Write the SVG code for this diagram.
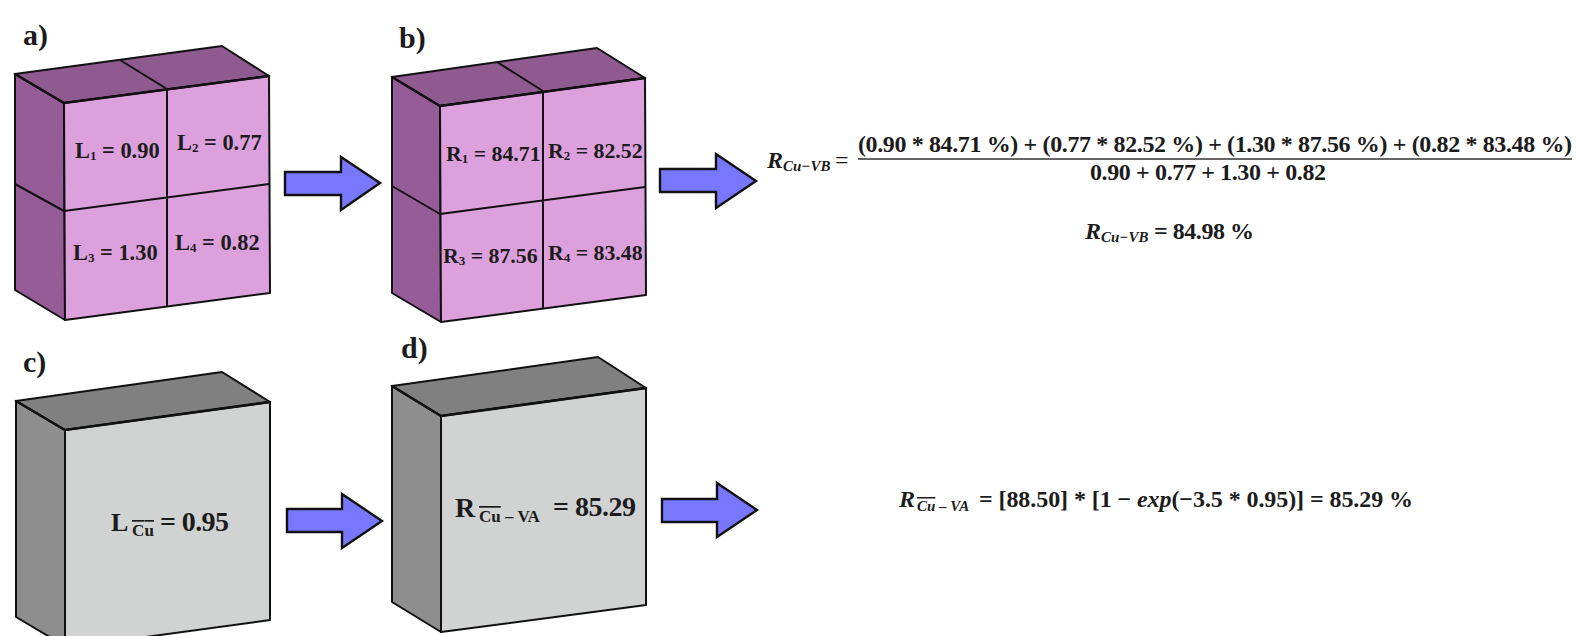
<svg xmlns="http://www.w3.org/2000/svg" width="1577" height="636" viewBox="0 0 1577 636">
<style>
text{font-family:"Liberation Serif","Times New Roman",serif;font-weight:bold;fill:#1c1c1c}
.e{stroke:#111;stroke-width:2;stroke-linejoin:round}
.t{stroke:#111;stroke-width:2.6;stroke-linecap:round;fill:none}
.l{stroke:#111;stroke-width:2;fill:none}
.pf{fill:#dca0dc}.ps{fill:#965c98}.pt{fill:#8f5a90}
.gf{fill:#d1d3d3}.gs{fill:#8e8e8e}.gt{fill:#808080}
.ar{fill:#7878ff;stroke:#111;stroke-width:2.4;stroke-linejoin:miter}
.h{font-size:30px}.v{font-size:22.4px}.w{font-size:21.8px}.s{font-size:13px}
.m{font-size:24px}.i{font-style:italic}.ms{font-size:15px;font-style:italic}
.b{font-size:28px}.bs{font-size:17px;text-decoration:overline}.bn{font-size:17px}
.fr{stroke:#333;stroke-width:1.4}
</style>
<g id="panel-a">
<polygon class="ps e" points="15,74 64,103 65,320 15,290"/>
<polygon class="pt e" points="15,74 222,46 269,76 64,103"/>
<polygon class="pf e" points="64,103 269,76 270,293 65,320"/>
<path class="t" d="M15,74 64,103 269,76"/>
<path class="l" d="M120,60 167,89M167,89V307M64,211 269,184M15,184 64,211"/>
<text class="h" x="23" y="45">a)</text>
<text class="v" x="75" y="158">L<tspan class="s" dy="2">1</tspan><tspan dy="-2"> = 0.90</tspan></text>
<text class="v" x="177" y="150">L<tspan class="s" dy="2">2</tspan><tspan dy="-2"> = 0.77</tspan></text>
<text class="v" x="73" y="260">L<tspan class="s" dy="2">3</tspan><tspan dy="-2"> = 1.30</tspan></text>
<text class="v" x="175" y="250">L<tspan class="s" dy="2">4</tspan><tspan dy="-2"> = 0.82</tspan></text>
</g>
<g id="panel-b">
<polygon class="ps e" points="392,77 440,106 441,322 392,293"/>
<polygon class="pt e" points="392,77 597,48 645,78 440,106"/>
<polygon class="pf e" points="440,106 645,78 646,295 441,322"/>
<path class="t" d="M392,77 440,106 645,78"/>
<path class="l" d="M497,62 543,91M543,91V309M440,214 645,187M392,186 440,214"/>
<text class="h" x="399" y="48">b)</text>
<text class="w" x="446" y="161">R<tspan class="s" dy="2">1</tspan><tspan dy="-2"> = 84.71</tspan></text>
<text class="w" x="548" y="158">R<tspan class="s" dy="2">2</tspan><tspan dy="-2"> = 82.52</tspan></text>
<text class="w" x="443" y="263">R<tspan class="s" dy="2">3</tspan><tspan dy="-2"> = 87.56</tspan></text>
<text class="w" x="548" y="260">R<tspan class="s" dy="2">4</tspan><tspan dy="-2"> = 83.48</tspan></text>
</g>
<g id="panel-c">
<polygon class="gs e" points="16,401 65,430 65,646 16,617"/>
<polygon class="gt e" points="16,401 222,372 270,402 65,430"/>
<polygon class="gf e" points="65,430 270,402 270,620 65,648"/>
<path class="t" d="M16,401 65,430 270,402"/>
<text class="h" x="23" y="372">c)</text>
<text class="b" x="111" y="531" font-size="26" style="font-size:26px">L</text>
<text class="bs" x="132" y="536" textLength="22">Cu</text>
<text class="b" x="160" y="531" textLength="69">= 0.95</text>
</g>
<g id="panel-d">
<polygon class="gs e" points="392,386 441,416 441,632 392,602"/>
<polygon class="gt e" points="392,386 598,357 646,388 441,416"/>
<polygon class="gf e" points="441,416 646,388 646,605 441,632"/>
<path class="t" d="M392,386 441,416 646,388"/>
<text class="h" x="401" y="358">d)</text>
<text class="b" x="455" y="517">R</text>
<text class="bn" x="479" y="522"><tspan class="bs">Cu</tspan> – VA</text>
<text class="b" x="553" y="516" textLength="83">= 85.29</text>
</g>
<g id="connectors">
<polygon class="ar" points="285,172 341,172 341,157 380,183 341,210 341,195 285,195"/>
<polygon class="ar" points="660,169 716,169 716,154 756,181 716,208 716,192 660,192"/>
<polygon class="ar" points="287,509 342,509 342,494 382,521 342,548 342,532 287,532"/>
<polygon class="ar" points="662,499 717,499 717,483 757,510 717,537 717,522 662,522"/>
</g>
<g id="equation-1">
<text class="m i" x="767" y="168">R<tspan class="ms" dy="3">Cu−VB</tspan></text>
<text class="m" x="835" y="168" style="font-weight:normal">=</text>
<text class="m" x="858" y="152" textLength="714">(0.90 * 84.71 %) + (0.77 * 82.52 %) + (1.30 * 87.56 %) + (0.82 * 83.48 %)</text>
<line class="fr" x1="858" y1="159" x2="1572" y2="159"/>
<text class="m" x="1090" y="180" textLength="236">0.90 + 0.77 + 1.30 + 0.82</text>
</g>
<g id="equation-2">
<text class="m i" x="1085" y="239">R<tspan class="ms" dy="3">Cu−VB</tspan></text>
<text class="m" x="1154" y="239" textLength="100">= 84.98 %</text>
</g>
<g id="equation-3">
<text class="m i" x="899" y="507">R</text>
<text class="ms" x="917" y="511"><tspan text-decoration="overline">Cu</tspan> – VA</text>
<text class="m" x="979" y="507" textLength="434">= [88.50] * [1 − <tspan class="i">exp</tspan>(−3.5 * 0.95)] = 85.29 %</text>
</g>
</svg>
